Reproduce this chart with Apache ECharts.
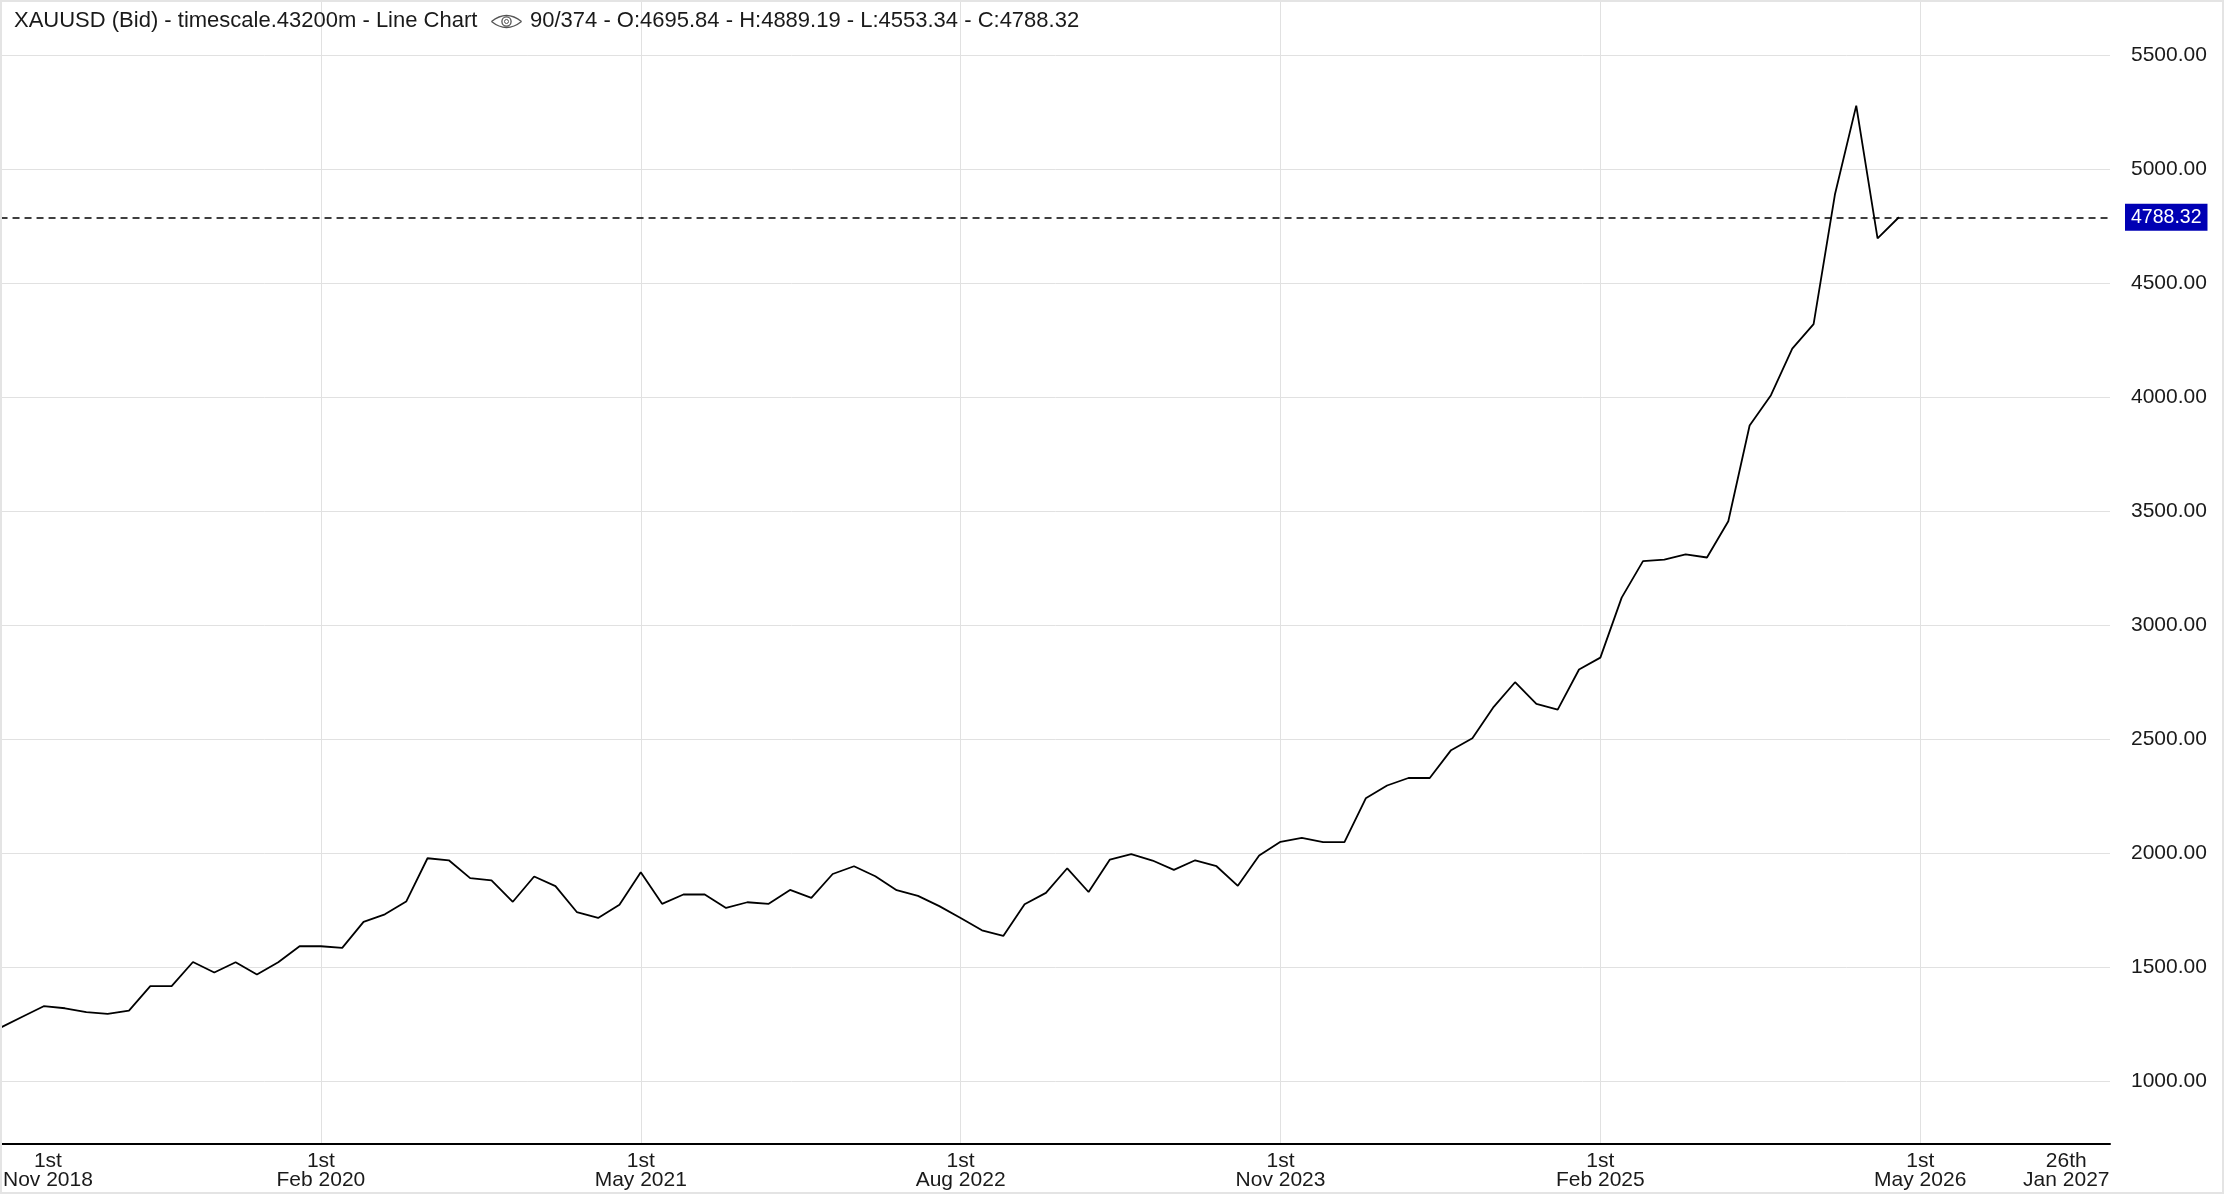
<!DOCTYPE html>
<html>
<head>
<meta charset="utf-8">
<title>XAUUSD (Bid) - Line Chart</title>
<script src="https://cdn.jsdelivr.net/npm/echarts@6/dist/echarts.min.js"></script>
<style>
  html, body { margin: 0; padding: 0; background: #ffffff; }
  #chart { position: absolute; left: 0; top: 0; width: 2224px; height: 1194px; }
  #frame { position: absolute; left: 0; top: 0; width: 2224px; height: 1194px;
           box-sizing: border-box; border: 2px solid #e4e4e4; pointer-events: none; }
</style>
</head>
<body>
<div id="chart"></div>
<div id="frame"></div>
<script>
// ---- Data (monthly closes, XAUUSD bid) ----
const months = [
  '2018-11','2018-12',
  '2019-01','2019-02','2019-03','2019-04','2019-05','2019-06','2019-07','2019-08','2019-09','2019-10','2019-11','2019-12',
  '2020-01','2020-02','2020-03','2020-04','2020-05','2020-06','2020-07','2020-08','2020-09','2020-10','2020-11','2020-12',
  '2021-01','2021-02','2021-03','2021-04','2021-05','2021-06','2021-07','2021-08','2021-09','2021-10','2021-11','2021-12',
  '2022-01','2022-02','2022-03','2022-04','2022-05','2022-06','2022-07','2022-08','2022-09','2022-10','2022-11','2022-12',
  '2023-01','2023-02','2023-03','2023-04','2023-05','2023-06','2023-07','2023-08','2023-09','2023-10','2023-11','2023-12',
  '2024-01','2024-02','2024-03','2024-04','2024-05','2024-06','2024-07','2024-08','2024-09','2024-10','2024-11','2024-12',
  '2025-01','2025-02','2025-03','2025-04','2025-05','2025-06','2025-07','2025-08','2025-09','2025-10','2025-11','2025-12',
  '2026-01','2026-02','2026-03','2026-04'
];
const closes = [
  1235, 1282,
  1328, 1319, 1302, 1294, 1309, 1416, 1416, 1522, 1476, 1521, 1467, 1521,
  1591, 1591, 1584, 1698, 1731, 1787, 1977, 1968, 1890, 1880, 1786, 1897,
  1855, 1741, 1715, 1773, 1916, 1777, 1818, 1818, 1759, 1784, 1777, 1838,
  1803, 1908, 1942, 1898, 1837, 1812, 1767, 1715, 1661, 1636, 1775, 1825,
  1933, 1829, 1971, 1995, 1967, 1926, 1968, 1942, 1856, 1989, 2049, 2066,
  2048, 2048, 2240, 2296, 2329, 2329, 2451, 2503, 2641, 2749, 2654, 2629,
  2805, 2857, 3120, 3280, 3287, 3310, 3296, 3455, 3875, 4008, 4212, 4320,
  4888, 5278, 4696, 4788.32
];
const lastClose = 4788.32;

// Axis ticks / labels
const yTickValues = [1000, 1500, 2000, 2500, 3000, 3500, 4000, 4500, 5000, 5500];
const xTickValues = [0, 15, 30, 45, 60, 75, 90];           // month index of gridlines
const xLabelPos   = [2.2, 15, 30, 45, 60, 75, 90, 96.85];  // month index of label centres
const xLabelText  = ['1st\nNov 2018', '1st\nFeb 2020', '1st\nMay 2021', '1st\nAug 2022',
                     '1st\nNov 2023', '1st\nFeb 2025', '1st\nMay 2026', '26th\nJan 2027'];

const headerLeft  = 'XAUUSD (Bid) - timescale.43200m - Line Chart';
const headerRight = '90/374 - O:4695.84 - H:4889.19 - L:4553.34 - C:4788.32';

// ---- Chart ----
const FONT = '"Liberation Sans", Arial, Helvetica, sans-serif';
const chart = echarts.init(document.getElementById('chart'), null, { renderer: 'canvas' });

const seriesData = closes.map((v, i) => [i, v]);

chart.setOption({
  animation: false,
  backgroundColor: '#ffffff',
  grid: { left: 0, right: 114, top: 0, bottom: 50, containLabel: false },
  xAxis: {
    type: 'value',
    min: -0.023,
    max: 98.9,
    axisLine: { show: true, lineStyle: { color: '#000000', width: 2 } },
    axisTick: { show: false, customValues: xTickValues },
    splitLine: { show: true, lineStyle: { color: '#e1e1e1', width: 1 } },
    axisLabel: {
      customValues: xLabelPos,
      showMinLabel: true,
      showMaxLabel: true,
      margin: 8,
      fontSize: 21,
      lineHeight: 19,
      fontFamily: FONT,
      color: '#1a1a1a',
      align: 'center',
      formatter: function (v) {
        const i = xLabelPos.findIndex(p => Math.abs(p - v) < 1e-6);
        return i >= 0 ? xLabelText[i] : '';
      }
    }
  },
  yAxis: {
    type: 'value',
    position: 'right',
    min: 723.7,
    max: 5741.2,
    scale: true,
    axisLine: { show: true, lineStyle: { color: '#000000', width: 2 } },
    axisTick: { show: false, customValues: yTickValues },
    splitLine: { show: true, lineStyle: { color: '#e1e1e1', width: 1 } },
    axisLabel: {
      customValues: yTickValues,
      showMinLabel: true,
      showMaxLabel: true,
      margin: 21,
      fontSize: 21,
      fontFamily: FONT,
      color: '#1a1a1a',
      formatter: function (v) { return v.toFixed(2); }
    }
  },
  series: [{
    type: 'line',
    data: seriesData,
    showSymbol: false,
    symbol: 'none',
    lineStyle: { color: '#000000', width: 1.8 },
    itemStyle: { color: '#000000' },
    z: 5,
    markLine: {
      silent: true,
      symbol: ['none', 'none'],
      animation: false,
      lineStyle: { type: [7, 5], color: '#000000', width: 1.5 },
      label: {
        show: true,
        position: 'end',
        distance: 15,
        formatter: lastClose.toFixed(2),
        backgroundColor: '#0000b4',
        color: '#ffffff',
        fontFamily: FONT,
        fontSize: 19.5,
        lineHeight: 19,
        padding: [4, 6, 4, 6]
      },
      data: [{ yAxis: lastClose }]
    }
  }],
  graphic: [
    {
      type: 'text', left: 14, top: 10, z: 100,
      style: { text: headerLeft, fontSize: 22, fontFamily: FONT, fill: '#1a1a1a' }
    },
    {
      type: 'group', left: 489, top: 13, z: 100,
      children: [
        { type: 'bezierCurve', shape: { x1: 0, y1: 8, x2: 30, y2: 8, cpx1: 15, cpy1: -4 },
          style: { fill: null, stroke: '#555555', lineWidth: 1.3 } },
        { type: 'bezierCurve', shape: { x1: 0, y1: 8, x2: 30, y2: 8, cpx1: 15, cpy1: 20 },
          style: { fill: null, stroke: '#555555', lineWidth: 1.3 } },
        { type: 'circle', shape: { cx: 15, cy: 8, r: 4.6 },
          style: { fill: null, stroke: '#555555', lineWidth: 1.3 } },
        { type: 'circle', shape: { cx: 15, cy: 8, r: 2 },
          style: { fill: null, stroke: '#555555', lineWidth: 1 } }
      ]
    },
    {
      type: 'text', left: 530, top: 10, z: 100,
      style: { text: headerRight, fontSize: 22, fontFamily: FONT, fill: '#1a1a1a' }
    }
  ]
});
</script>
</body>
</html>
